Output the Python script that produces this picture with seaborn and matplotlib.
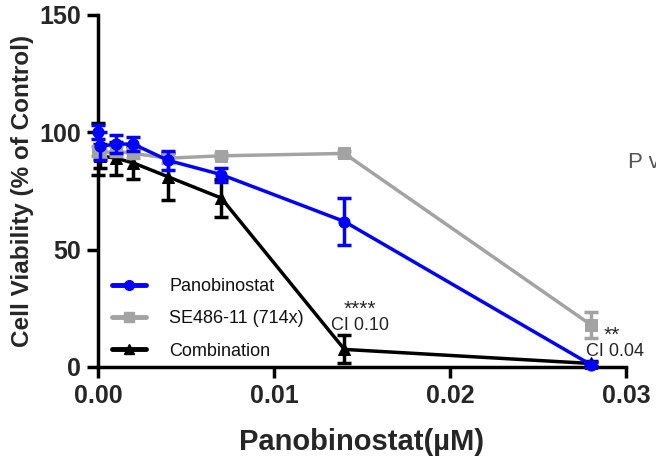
import numpy as np
import pandas as pd
import matplotlib
matplotlib.use("Agg")
import matplotlib.pyplot as plt
import seaborn as sns
from matplotlib.lines import Line2D

# ---- data ----
doses = [0.0, 0.0001, 0.001, 0.002, 0.004, 0.007, 0.014, 0.028]
pano_mean = [100, 94, 95, 95, 88, 82, 62, 1]
pano_err = [3, 6, 4, 3, 4, 3, 10, 1]
se_mean = [92, 91, 92, 91, 89, 90, 91, 18]
se_err = [2, 2, 2, 2, 2, 1, 1, 5.5]
combo_mean = [93, 90, 89, 87, 81, 72, 7.5, 1.5]
combo_err = [11, 5, 7, 7, 10, 8, 6, 1]
series_names = ["Panobinostat", "SE486-11 (714x)", "Combination"]
x_ticks = [0.00, 0.01, 0.02, 0.03]
y_ticks = [0, 50, 100, 150]

sns.set_theme(style="ticks")
plt.rcParams['font.family'] = ['Liberation Sans', 'DejaVu Sans']

fig = plt.figure(figsize=(6.56, 4.69), dpi=100)
ax = fig.add_axes([98/656, 1-367/469, (626-98)/656, (367-15)/469])

colors = {"Panobinostat": "#0000FF", "SE486-11 (714x)": "#A3A3A3", "Combination": "#000000"}
markers = {"Panobinostat": "o", "SE486-11 (714x)": "s", "Combination": "^"}
msize = {"Panobinostat": 8, "SE486-11 (714x)": 8, "Combination": 8}

df = pd.DataFrame({
    "dose": doses * 3,
    "viability": pano_mean + se_mean + combo_mean,
    "err": pano_err + se_err + combo_err,
    "series": [series_names[0]] * len(doses) + [series_names[1]] * len(doses) + [series_names[2]] * len(doses),
})

order_draw = ["Combination", "SE486-11 (714x)", "Panobinostat"]
for i, name in enumerate(order_draw):
    sub = df[df.series == name]
    ax.errorbar(sub.dose, sub.viability, yerr=sub.err, fmt="none", ecolor=colors[name],
                elinewidth=2.5, capsize=5, capthick=2.5, zorder=2 + i)
    sns.lineplot(data=sub, x="dose", y="viability", color=colors[name], marker=markers[name],
                 markersize=msize[name], markeredgecolor=colors[name], linewidth=2.5,
                 ax=ax, zorder=3 + i, legend=False, errorbar=None)

ax.set_xlim(0, 0.03)
ax.set_ylim(0, 150)
ax.set_xticks(x_ticks)
ax.set_xticklabels([f"{t:.2f}" for t in x_ticks])
ax.set_yticks(y_ticks)
ax.set_yticklabels([str(t) for t in y_ticks])
for lab in ax.get_xticklabels() + ax.get_yticklabels():
    lab.set_fontweight("bold")
    lab.set_fontsize(18)
ax.tick_params(axis="both", length=8, width=2.5, color="black", pad=4)
for s in ["top", "right"]:
    ax.spines[s].set_visible(False)
for s in ["left", "bottom"]:
    ax.spines[s].set_linewidth(2.5)
    ax.spines[s].set_color("black")
for a in ax.get_lines():
    a.set_clip_on(False)

ax.set_xlabel("Panobinostat(µM)", fontsize=21, fontweight="bold", labelpad=15)
ax.set_ylabel("Cell Viability (% of Control)", fontsize=17.5, fontweight="bold", labelpad=4)

handles = [Line2D([0], [0], color=colors[n], marker=markers[n], markersize=7, linewidth=3.5)
           for n in series_names]
leg = ax.legend(handles, series_names, loc="lower left", bbox_to_anchor=(-0.005, -0.025),
                frameon=False, fontsize=13, handlelength=1.9, handletextpad=1.3,
                labelspacing=0.85)
for t in leg.get_texts():
    t.set_color("#111111")

ax.text(0.0149, 24.5, "****", ha="center", va="center", fontsize=15)
ax.text(0.0149, 17.5, "CI 0.10", ha="center", va="center", fontsize=13)
ax.text(0.0292, 13.5, "**", ha="center", va="center", fontsize=15)
ax.text(0.0294, 6.5, "CI 0.04", ha="center", va="center", fontsize=13)

fig.text(628/656, 1-162/469, "P v", fontsize=16, color="#555555", va="center", ha="left")

fig.savefig("out.png", dpi=100)
